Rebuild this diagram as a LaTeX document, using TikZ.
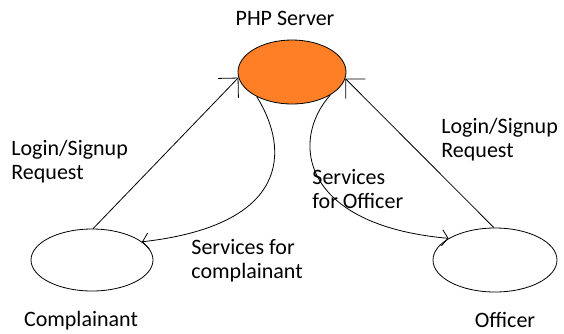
\documentclass[tikz,border=0pt]{standalone}
\usepackage{fontspec}
\setmainfont{Carlito}
\usetikzlibrary{shapes.geometric,arrows.meta}
\definecolor{laranja}{RGB}{255,127,39}
\begin{document}
\begin{tikzpicture}[
  x=1pt, y=-1pt, line width=0.8pt,
  every node/.style={inner sep=0pt, font=\fontsize{22}{24}\selectfont}
]
\tikzset{
  bolha/.style={draw, ellipse, minimum width=122pt, minimum height=62pt},
  rotulo/.style={anchor=north west, align=left},
  pedido/.style={-{Straight Barb[length=14pt,width=28pt]}},
  servico/.style={-{Straight Barb[length=6pt,width=16pt]}}
}
\useasboundingbox (0,0) rectangle (564,333);
\node[bolha, fill=laranja, minimum width=108pt, minimum height=64pt] (srv) at (292,72) {};
\node[bolha] (comp) at (92,260) {};
\node[bolha, minimum width=124pt, minimum height=64pt] (ofc) at (495,260) {};
\node[anchor=north] (tsrv) at (285,11) {PHP Server};
\node[anchor=north] (tcomp) at (81,311) {Complainant};
\node[anchor=north] (tofc) at (505,312) {Officer};
\node[rotulo] (lcomp) at (11,140) {Login/Signup\\Request};
\node[rotulo] (lofc) at (441,118) {Login/Signup\\Request};
\node[rotulo] (sofc) at (312,169) {Services\\for Officer};
\node[rotulo] (scomp) at (191,239) {Services for\\complainant};
\draw[pedido] (comp.88) -- (srv.186);
\draw[pedido] (ofc.92) -- (srv.353);
\draw[servico] (srv.215) .. controls (290,150) and (290,225) .. (comp.20);
\draw[servico] (srv.329) .. controls (290,140) and (300,225) .. (ofc.155);
\end{tikzpicture}
\end{document}
